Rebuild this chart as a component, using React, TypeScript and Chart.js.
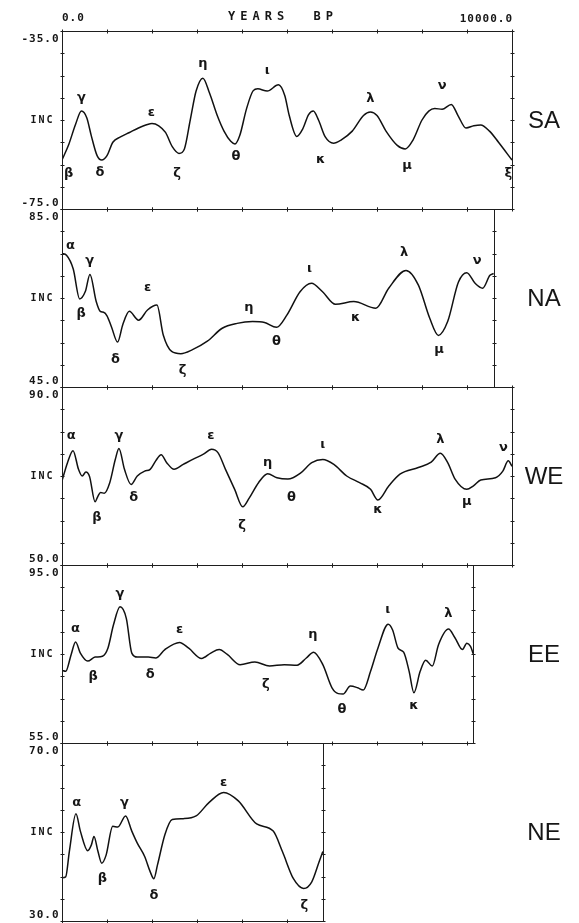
import React, { useEffect, useRef } from "react";
import { Chart, registerables } from "chart.js";

Chart.register(...registerables);

// ---------- axes ----------
const yearMin = 0;
const yearMax = 10000;
const yearStep = 1000;
const incStep = 5;
const headerLeft = "0.0";
const headerTitle = "YEARS  BP";
const headerRight = "10000.0";
const incLabel = "INC";

const panelNames = ["SA", "NA", "WE", "EE", "NE"];
const incMins = [-75, 45, 50, 55, 30];
const incMaxs = [-35, 85, 90, 95, 70];

// ---------- SA ----------
const saYears = [0, 150, 300, 433, 550, 650, 780, 883, 1000, 1130, 1300, 1500, 1700, 1900, 2000, 2150, 2300, 2450, 2600, 2720, 2850, 2980, 3130, 3280, 3450, 3600, 3750, 3843, 3950, 4100, 4250, 4350, 4560, 4810, 4950, 5050, 5217, 5350, 5480, 5585, 5700, 5850, 6035, 6200, 6450, 6700, 6852, 7000, 7200, 7450, 7629, 7800, 8000, 8150, 8283, 8447, 8651, 8800, 8978, 9150, 9305, 9500, 9700, 10000];
const saInc = [-64, -60.5, -56, -53, -54.5, -58.5, -63, -64, -63, -60, -58.8, -57.8, -56.8, -56, -55.8, -56.3, -57.8, -61, -62.5, -61.5, -55, -48.5, -45.6, -49, -54, -57.5, -59.8, -60.4, -58.5, -52.5, -48.4, -48.0, -48.5, -47.1, -49.5, -54, -58.7, -57, -53.8, -53, -55, -58.8, -60.2, -59.5, -57.5, -54, -53.2, -54, -57.5, -60.7, -61.5, -59.5, -55, -53, -52.4, -52.6, -51.5, -54, -56.8, -56.3, -56.1, -57.5, -60, -64];
const saMarks = ["β", "γ", "δ", "ε", "ζ", "η", "θ", "ι", "κ", "λ", "μ", "ν", "ξ"];
const saMarkYears = [147, 433, 842, 1987, 2559, 3132, 3868, 4563, 5749, 6852, 7670, 8447, 9919];
const saMarkInc = [-67.1, -50.0, -66.9, -53.3, -67.1, -42.4, -63.3, -43.9, -63.9, -50.2, -65.2, -47.3, -67.1];

// ---------- NA ----------
const naYears = [0, 100, 250, 392, 520, 621, 760, 850, 924, 1000, 1100, 1235, 1350, 1496, 1701, 1900, 2110, 2250, 2437, 2641, 2900, 3230, 3560, 3890, 4236, 4500, 4767, 5000, 5290, 5544, 5790, 6076, 6484, 6975, 7260, 7645, 7920, 8170, 8365, 8570, 8810, 8995, 9180, 9346, 9510, 9592];
const naInc = [75.0, 74.6, 71.5, 64.8, 66.5, 70.3, 64.2, 62.0, 61.8, 61.0, 58.5, 55.1, 59.0, 62.0, 60.0, 62.3, 63.4, 56.7, 53.0, 52.5, 53.4, 55.3, 58.2, 59.3, 59.7, 59.5, 58.4, 61.2, 66.4, 68.3, 66.4, 63.6, 64.2, 62.7, 67.2, 71.2, 67.9, 60.5, 56.6, 59.7, 68.6, 70.7, 68.3, 67.2, 70.1, 70.5];
const naMarks = ["α", "β", "γ", "δ", "ε", "ζ", "η", "θ", "ι", "κ", "λ", "μ", "ν"];
const naMarkYears = [188, 425, 613, 1186, 1905, 2682, 4154, 4767, 5503, 6525, 7605, 8381, 9224];
const naMarkInc = [76.8, 61.6, 73.3, 51.2, 67.3, 48.6, 62.8, 55.3, 71.6, 60.5, 75.3, 53.3, 73.3];

// ---------- WE ----------
const weYears = [0, 122, 245, 367, 449, 531, 612, 735, 800, 857, 939, 1061, 1184, 1265, 1388, 1535, 1673, 1837, 1959, 2082, 2204, 2327, 2490, 2694, 2939, 3143, 3322, 3469, 3633, 3837, 4016, 4163, 4367, 4571, 4776, 5020, 5306, 5551, 5796, 6041, 6327, 6612, 6857, 7020, 7265, 7510, 7918, 8204, 8408, 8571, 8735, 8995, 9143, 9306, 9633, 9796, 9918, 10000];
const weInc = [68.9, 73.0, 75.7, 71.5, 70.0, 70.9, 69.9, 64.2, 65.5, 66.3, 66.1, 68.5, 73.7, 76.2, 71.5, 68.1, 70.0, 71.1, 71.5, 73.4, 74.8, 73.0, 71.5, 72.6, 73.9, 74.9, 76.0, 75.2, 71.5, 67.0, 63.1, 65.1, 68.5, 70.5, 69.6, 69.3, 70.7, 73.0, 73.7, 72.6, 70.0, 68.5, 67.0, 64.6, 67.8, 70.4, 71.9, 73.1, 75.1, 73.0, 69.3, 67.0, 67.8, 69.1, 69.6, 71.1, 73.4, 72.2];
const weMarks = ["α", "β", "γ", "δ", "ε", "ζ", "η", "θ", "ι", "κ", "λ", "μ", "ν"];
const weMarkYears = [204, 776, 1265, 1592, 3306, 4000, 4571, 5102, 5796, 7020, 8408, 8995, 9812];
const weMarkInc = [79.0, 60.7, 79.0, 65.1, 79.0, 58.8, 73.0, 65.1, 77.1, 62.5, 78.2, 64.2, 76.3];

// ---------- EE ----------
const eeYears = [0, 82, 204, 302, 408, 571, 735, 898, 1020, 1143, 1290, 1429, 1551, 1673, 1918, 2082, 2286, 2612, 2816, 3102, 3306, 3494, 3673, 3959, 4286, 4612, 4939, 5224, 5429, 5592, 5796, 6000, 6139, 6245, 6408, 6571, 6694, 6857, 7020, 7249, 7347, 7469, 7592, 7714, 7820, 7959, 8082, 8228, 8367, 8588, 8735, 8898, 8996, 9078, 9143];
const eeInc = [71.3, 71.1, 74.9, 77.7, 75.2, 73.4, 74.3, 74.5, 76.3, 81.5, 85.6, 83.0, 75.2, 74.3, 74.3, 74.1, 76.0, 77.6, 76.3, 74.0, 75.2, 76.0, 74.9, 72.6, 73.2, 72.3, 72.6, 72.5, 74.1, 75.4, 72.6, 67.4, 66.1, 66.0, 67.8, 67.4, 66.9, 71.1, 76.3, 81.7, 80.4, 76.3, 75.4, 71.1, 66.3, 71.1, 73.6, 72.3, 77.1, 80.6, 78.6, 76.0, 77.4, 76.7, 74.9];
const eeMarks = ["α", "β", "γ", "δ", "ε", "ζ", "η", "θ", "ι", "κ", "λ"];
const eeMarkYears = [302, 694, 1290, 1959, 2612, 4531, 5575, 6220, 7241, 7820, 8588];
const eeMarkInc = [80.8, 70.0, 88.6, 70.3, 80.4, 68.2, 79.3, 62.6, 84.9, 63.4, 84.1];

// ---------- NE ----------
const neYears = [0, 82, 163, 310, 408, 571, 653, 710, 800, 882, 980, 1127, 1241, 1412, 1551, 1673, 1837, 1959, 2041, 2122, 2286, 2449, 2694, 2980, 3265, 3592, 3918, 4326, 4694, 4898, 5143, 5371, 5551, 5714, 5796];
const neInc = [39.7, 39.9, 45.6, 54.1, 50.2, 45.8, 47.1, 49.0, 45.6, 43.0, 44.8, 51.3, 51.1, 53.6, 50.2, 47.5, 44.5, 41.1, 39.5, 42.6, 49.4, 52.8, 53.0, 53.6, 56.6, 58.9, 57.0, 51.8, 50.2, 45.6, 39.5, 37.3, 38.8, 43.3, 45.6];
const neMarks = ["α", "β", "γ", "δ", "ε", "ζ"];
const neMarkYears = [327, 898, 1388, 2041, 3592, 5388];
const neMarkInc = [56.6, 39.5, 56.6, 35.8, 61.1, 33.5];

const seriesYears = [saYears, naYears, weYears, eeYears, neYears];
const seriesInc = [saInc, naInc, weInc, eeInc, neInc];
const seriesMarks = [saMarks, naMarks, weMarks, eeMarks, neMarks];
const seriesMarkYears = [saMarkYears, naMarkYears, weMarkYears, eeMarkYears, neMarkYears];
const seriesMarkInc = [saMarkInc, naMarkInc, weMarkInc, eeMarkInc, neMarkInc];

const MONO = '"DejaVu Sans Mono", "Liberation Mono", monospace';

const decorPlugin = {
  id: "decor",
  afterDatasetsDraw(chart: any) {
    const ctx = chart.ctx as CanvasRenderingContext2D;
    const xs = chart.scales.x;
    ctx.save();
    panelNames.forEach((name, i) => {
      const ys = chart.scales["y" + name];
      const years = seriesYears[i];
      const lastYear = years[years.length - 1];
      const x0 = Math.round(xs.getPixelForValue(years[0])) + 0.5;
      const x1 = Math.round(xs.getPixelForValue(lastYear)) + 0.5;
      const y0 = Math.round(ys.getPixelForValue(incMaxs[i])) + 0.5;
      const y1 = Math.round(ys.getPixelForValue(incMins[i])) + 0.5;

      // frame
      ctx.strokeStyle = "#1e1e1e";
      ctx.lineWidth = 1;
      ctx.strokeRect(x0, y0, x1 - x0, y1 - y0);

      // tick marks
      ctx.beginPath();
      xs.ticks.forEach((t: any) => {
        if (t.value > lastYear + 1) return;
        const px = Math.round(xs.getPixelForValue(t.value)) + 0.5;
        ctx.moveTo(px, y0 - 2);
        ctx.lineTo(px, y0 + 2);
        ctx.moveTo(px, y1 - 2);
        ctx.lineTo(px, y1 + 2);
      });
      ys.ticks.forEach((t: any) => {
        const py = Math.round(ys.getPixelForValue(t.value)) + 0.5;
        ctx.moveTo(x0 - 2, py);
        ctx.lineTo(x0 + 2, py);
        ctx.moveTo(x1 - 2, py);
        ctx.lineTo(x1 + 2, py);
      });
      ctx.stroke();

      // axis value labels
      ctx.fillStyle = "#161616";
      ctx.textBaseline = "middle";
      ctx.textAlign = "right";
      ctx.font = "bold 11px " + MONO;
      (ctx as any).letterSpacing = "1px";
      ctx.fillText(incMaxs[i].toFixed(1), x0 - 3, y0 + 8);
      ctx.fillText(incMins[i].toFixed(1), x0 - 3, y1 - 6);
      ctx.font = "bold 10px " + MONO;
      (ctx as any).letterSpacing = "2px";
      ctx.fillText(incLabel, x0 - 8, ys.getPixelForValue((incMins[i] + incMaxs[i]) / 2));

      // greek markers
      (ctx as any).letterSpacing = "0px";
      ctx.textAlign = "center";
      ctx.font = 'bold 13px "DejaVu Sans", sans-serif';
      const marks = seriesMarks[i];
      marks.forEach((m, k) => {
        ctx.fillText(
          m,
          xs.getPixelForValue(seriesMarkYears[i][k]),
          ys.getPixelForValue(seriesMarkInc[i][k])
        );
      });

      // panel name
      ctx.font = '24px "Liberation Sans", Arial, sans-serif';
      ctx.fillText(name, xs.right + 32, (y0 + y1) / 2 + 1);
    });

    // header
    const top = chart.chartArea.top;
    ctx.font = "bold 11px " + MONO;
    ctx.textBaseline = "middle";
    (ctx as any).letterSpacing = "1px";
    ctx.textAlign = "left";
    ctx.fillText(headerLeft, xs.getPixelForValue(yearMin), top - 13);
    ctx.textAlign = "right";
    ctx.fillText(headerRight, xs.getPixelForValue(yearMax) + 1, top - 12);
    ctx.font = "bold 12px " + MONO;
    (ctx as any).letterSpacing = "5px";
    ctx.textAlign = "center";
    ctx.fillText(headerTitle, xs.getPixelForValue((yearMin + yearMax) / 2) - 4, top - 14);
    ctx.restore();
  },
};

export default function App() {
  const ref = useRef<HTMLCanvasElement | null>(null);

  useEffect(() => {
    if (!ref.current) return;
    const scales: any = {
      x: {
        type: "linear",
        min: yearMin,
        max: yearMax,
        display: false,
        ticks: { stepSize: yearStep, autoSkip: false },
      },
    };
    // left stacked axes: later-defined axes are placed higher
    [...panelNames].reverse().forEach((name) => {
      const i = panelNames.indexOf(name);
      scales["y" + name] = {
        type: "linear",
        position: "left",
        stack: "panels",
        stackWeight: 1,
        min: incMins[i],
        max: incMaxs[i],
        display: false,
        ticks: { stepSize: incStep, autoSkip: false },
        grid: { display: false },
      };
    });

    const datasets = panelNames.map((name, i) => ({
      label: name,
      data: seriesYears[i].map((x, k) => ({ x, y: seriesInc[i][k] })),
      yAxisID: "y" + name,
      borderColor: "#111",
      borderWidth: 1.5,
      pointRadius: 0,
      fill: false,
      cubicInterpolationMode: "monotone" as const,
    }));

    const chart = new Chart(ref.current, {
      type: "line",
      data: { datasets },
      options: {
        responsive: false,
        animation: false,
        devicePixelRatio: 1,
        layout: { padding: { left: 62, right: 67, top: 31, bottom: 2 } },
        scales,
        plugins: {
          legend: { display: false },
          tooltip: { enabled: false },
          title: { display: false },
        },
        events: [],
      },
      plugins: [decorPlugin],
    });
    return () => chart.destroy();
  }, []);

  return (
    <div
      style={{
        position: "fixed",
        left: 0,
        top: 0,
        width: 579,
        height: 923,
        background: "#fff",
      }}
    >
      <canvas
        ref={ref}
        width={579}
        height={923}
        style={{ display: "block", width: 579, height: 923 }}
      />
    </div>
  );
}
